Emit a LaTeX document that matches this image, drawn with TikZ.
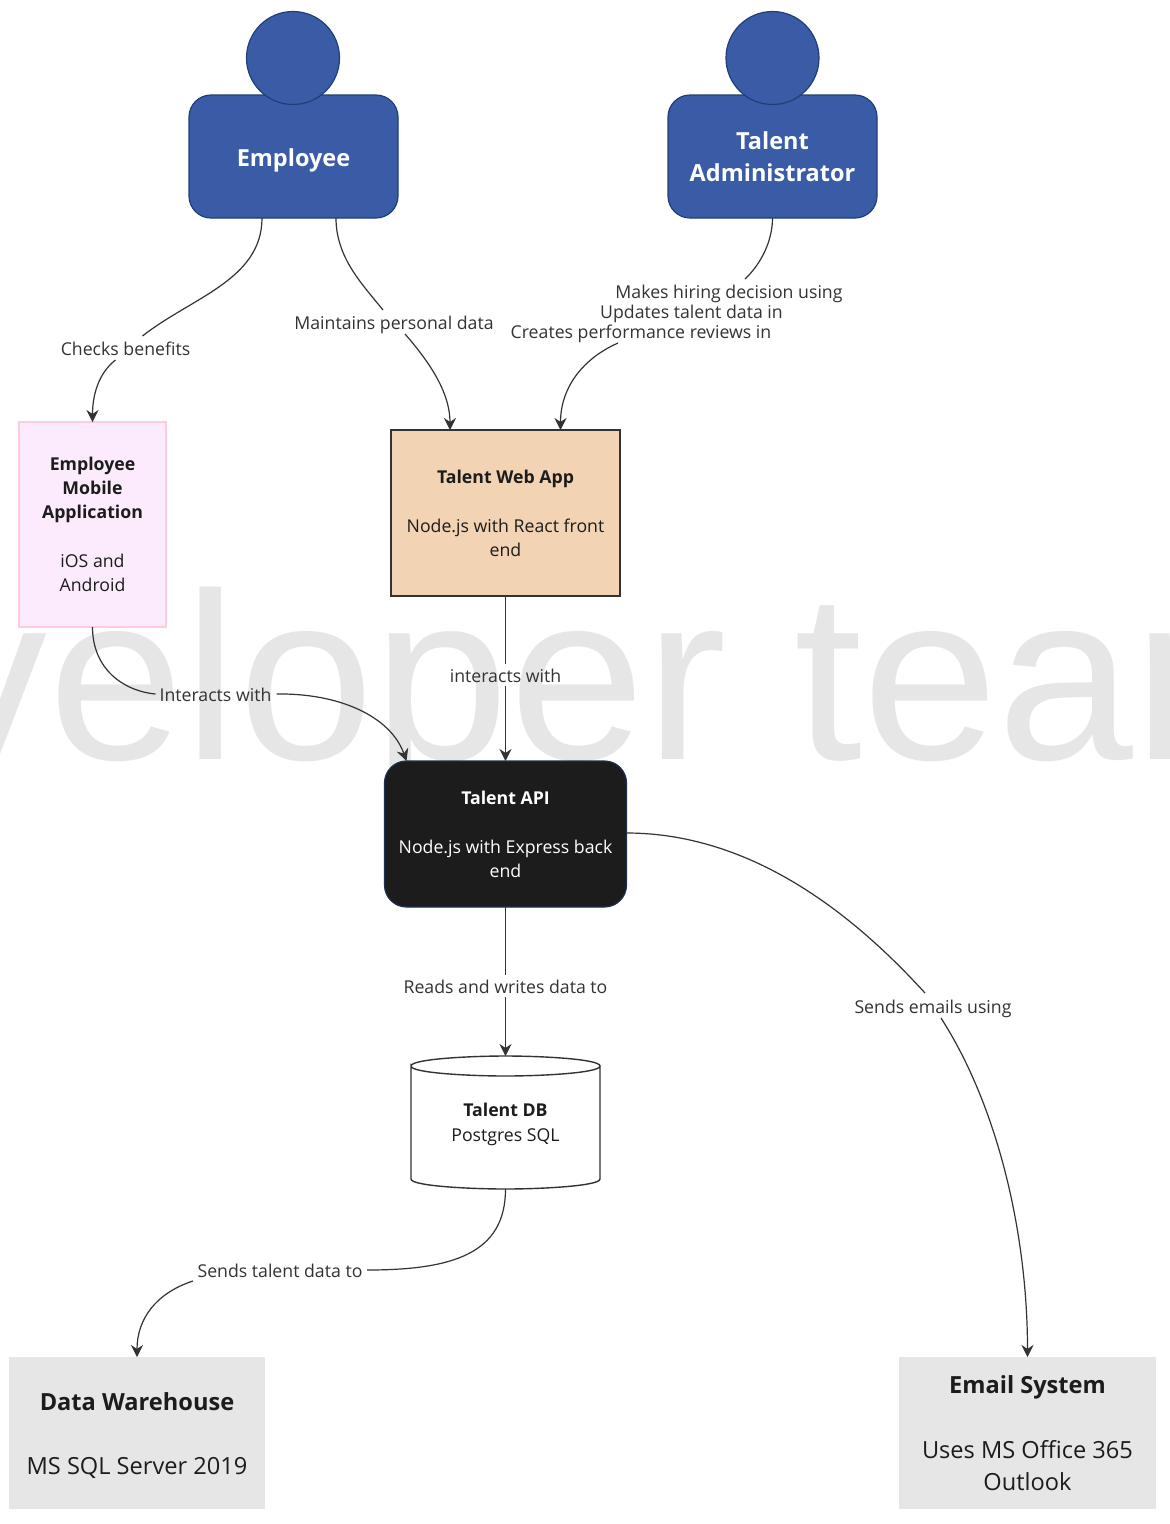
\documentclass[tikz,border=0pt]{standalone}
\usepackage{fontspec}
\setmainfont{Open Sans}
\usetikzlibrary{arrows.meta}
\definecolor{personfill}{HTML}{3A5BA5}
\definecolor{personedge}{HTML}{1F3F78}
\definecolor{ink}{HTML}{1C1C1C}
\definecolor{linkc}{HTML}{333333}
\definecolor{mobfill}{HTML}{FCEBFC}
\definecolor{mobedge}{HTML}{FFCBDD}
\definecolor{webfill}{HTML}{F2D3B3}
\definecolor{extfill}{HTML}{E6E6E6}
\definecolor{apiedge}{HTML}{1E3050}
\definecolor{wm}{HTML}{E6E6E6}
\tikzset{
  x=1pt,y=-1pt,
  box/.style={inner sep=0pt,outer sep=0pt,align=center,line width=1.2pt,text=ink,font=\fontsize{17.7}{24}\selectfont},
  personbody/.style={box,draw=personedge,fill=personfill,rounded corners=22pt,minimum width=209pt,minimum height=123pt,text=white,font=\fontsize{23.5}{32}\selectfont\bfseries},
  personhead/.style={circle,draw=personedge,fill=personfill,line width=1.2pt,minimum size=93pt,inner sep=0pt,outer sep=0pt},
  extbox/.style={box,fill=extfill,minimum width=256pt,minimum height=152pt,font=\fontsize{23.6}{32}\selectfont},
  lbl/.style={inner sep=0pt,outer sep=0pt,text=linkc,text height=19pt,text depth=5pt,font=\fontsize{17.7}{24}\selectfont},
  link/.style={draw=linkc,line width=1.2pt},
  linka/.style={link,-{Stealth[length=12pt,width=12pt]}},
}
\begin{document}
\begin{tikzpicture}
\useasboundingbox (0,0) rectangle (1170,1524);
\fill[white] (0,0) rectangle (1170,1524);
\begin{scope}
\clip (0,0) rectangle (1170,1524);
\node[anchor=base,inner sep=0pt,text=wm,xscale=1.026,font={\fontspec{Liberation Sans}\fontsize{238}{238}\selectfont}] (water) at (496,759) {developer team};
\end{scope}
% persons
\node[personbody,text height=20pt,text depth=0pt] (emp) at (293.5,156.5) {Employee};
\node[personhead] (emph) at (293,58) {};
\node[personbody] (adm) at (772.5,156.5) {Talent\\Administrator};
\node[personhead] (admh) at (772.5,58) {};
% boxes
\node[box,draw=mobedge,fill=mobfill,minimum width=147pt,minimum height=205pt] (mob) at (92.5,524.5)
  {{\bfseries Employee}\\{\bfseries Mobile}\\{\bfseries Application}\\[25pt]iOS and\\Android};
\node[box,draw=linkc,fill=webfill,minimum width=229pt,minimum height=166pt] (web) at (505.5,513)
  {{\bfseries Talent Web App}\\[25pt]Node.js with React front\\end};
\node[box,draw=apiedge,fill=ink,rounded corners=22pt,text=white,minimum width=242pt,minimum height=146pt] (api) at (505.5,834)
  {{\bfseries Talent API}\\[25pt]Node.js with Express back\\end};
\node[box,minimum width=189pt,minimum height=133pt] (db) at (505.5,1122.5)
  {\rule{0pt}{18pt}{\bfseries Talent DB}\\[1pt]Postgres SQL};
\draw[line width=1.4pt,draw=linkc] (411,1066) .. controls (411,1059) and (470,1056) .. (505.5,1056)
  .. controls (541,1056) and (600,1059) .. (600,1066) .. controls (600,1073) and (541,1076) .. (505.5,1076)
  .. controls (470,1076) and (411,1073) .. (411,1066) -- (411,1179)
  .. controls (411,1186) and (470,1189) .. (505.5,1189) .. controls (541,1189) and (600,1186) .. (600,1179) -- (600,1066);
\node[extbox] (dw) at (137,1433) {\rule{0pt}{22pt}{\bfseries Data Warehouse}\\[32pt]MS SQL Server 2019};
\node[extbox,minimum width=257pt] (mail) at (1027.5,1433) {{\bfseries Email System}\\[33pt]Uses MS Office 365\\Outlook};
% labels
\node[lbl] (l1) at (125.5,348) {Checks benefits};
\node[lbl] (l2) at (394,322) {Maintains personal data};
\node[lbl] (l3a) at (729,291) {Makes hiring decision using};
\node[lbl] (l3b) at (691.5,311) {Updates talent data in};
\node[lbl] (l3c) at (641,331) {Creates performance reviews in};
\node[lbl] (l4) at (505.5,675) {interacts with};
\node[lbl] (l5) at (215.5,694) {Interacts with};
\node[lbl] (l6) at (505.5,986) {Reads and writes data to};
\node[lbl] (l7) at (933,1006) {Sends emails using};
\node[lbl] (l8) at (280,1270) {Sends talent data to};
% connectors
\draw[link] ([xshift=-31.5pt]emp.south) .. controls +(0,62) and +(48,-38) .. ([shift={(17,-12)}]l1.center);
\draw[linka] ([shift={(-10,12)}]l1.center) .. controls +(-18,14) and +(0,-25) .. (mob.north);
\draw[link] ([xshift=42.5pt]emp.south) .. controls +(0,40) and +(-20,-25) .. ([shift={(-11,-12)}]l2.center);
\draw[linka] ([shift={(11,12)}]l2.center) .. controls +(28,32) and +(0,-35) .. ([xshift=-55.5pt]web.north);
\draw[link] (adm.south) .. controls +(0,24) and +(15,-14) .. ([shift={(16,-12)}]l3a.center);
\draw[linka] ([shift={(-23,12)}]l3c.center) .. controls +(-38,17) and +(0,-40) .. ([xshift=55pt]web.north);
\draw[link] (web.south) -- ([shift={(0,-11)}]l4.center);
\draw[linka] ([shift={(0,11)}]l4.center) -- (api.north);
\draw[link] (mob.south) .. controls +(0,42) and +(-32,-3) .. ([xshift=-60pt]l5.center);
\draw[linka] ([xshift=61pt]l5.center) .. controls +(62,-1) and +(-16,-45) .. ([xshift=-99pt]api.north);
\draw[link] (api.south) -- ([shift={(0,-11)}]l6.center);
\draw[linka] ([shift={(0,11)}]l6.center) -- (db.north);
\draw[link] ([yshift=1pt]api.east) .. controls +(133,0) and +(-62,-68) .. ([shift={(-8,-13)}]l7.center);
\draw[linka] ([shift={(8,12)}]l7.center) .. controls +(59,92) and +(0,-118) .. (mail.north);
\draw[link] (db.south) .. controls +(0,65) and +(85,0) .. ([xshift=87pt]l8.center);
\draw[linka] ([shift={(-87,11)}]l8.center) .. controls +(-37,12) and +(0,-38) .. (dw.north);
\end{tikzpicture}
\end{document}
